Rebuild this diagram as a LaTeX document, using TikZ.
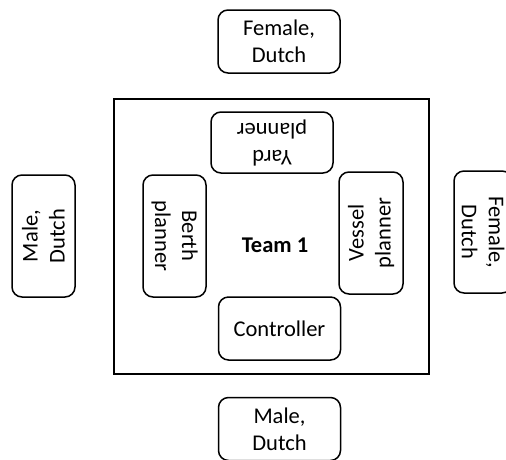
\documentclass[tikz,border=0pt]{standalone}
\usepackage{fontspec}
\setmainfont{Carlito}
\begin{document}
\begin{tikzpicture}[
      x=1pt, y=-1pt,
      every node/.style={align=center, inner sep=0pt, font=\fontsize{22.5}{27}\selectfont},
      box/.style={draw, line width=1.5pt, rounded corners=10pt, minimum width=122pt, minimum height=63pt},
      frame/.style={draw, line width=1.5pt, minimum width=315pt, minimum height=275pt},
      title/.style={font=\fontsize{22.5}{27}\selectfont\bfseries}
      ]
      \useasboundingbox (0,0) rectangle (506,459);
      % the team and its roles
      \node[frame] (team) at (271.5,236.5) {};
      \node[title] (name) at (275,245) {Team 1};
      \node[box, minimum height=61pt, rotate=180] (yard) at (272,142.5) {Yard\\planner};
      \node[box, rotate=-90] (berth) at (174.5,236) {Berth\\planner};
      \node[box, minimum height=64pt, rotate=90] (vessel) at (371,233) {Vessel\\planner};
      \node[box] (controller) at (279.5,328.5) {Controller};
      % people around the table
      \node[box] (north) at (279,41.5) {Female,\\Dutch};
      \node[box, rotate=90] (west) at (43.5,236) {Male,\\Dutch};
      \node[box, rotate=-90, minimum height=58pt] (east) at (483,232) {Female,\\Dutch};
      \node[box] (south) at (279.5,429) {Male,\\Dutch};
\end{tikzpicture}
\end{document}
